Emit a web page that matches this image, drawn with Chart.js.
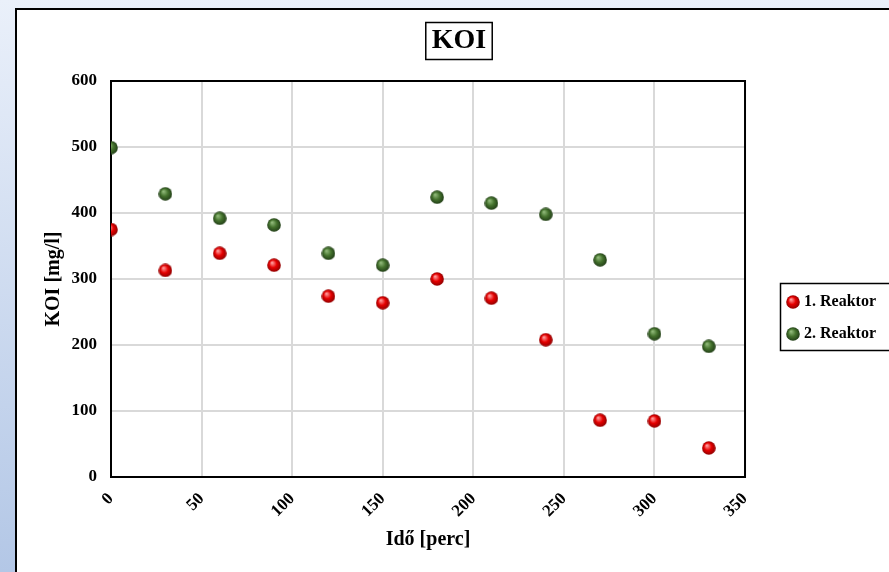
<!DOCTYPE html>
<html>
<head>
<meta charset="utf-8">
<script src="https://cdn.jsdelivr.net/npm/chart.js@4.4.1/dist/chart.umd.min.js"></script>
<style>
    html, body { margin: 0; padding: 0; width: 889px; height: 572px; overflow: hidden; }
    body { background: linear-gradient(#eaf0fa, #b3c7e6); }
    #frame { position: absolute; left: 15px; top: 8px; width: 900px; height: 600px;
             border-left: 2px solid #000; border-top: 2px solid #000; background: #fff; }
    canvas { display: block; }
</style>
</head>
<body>
<div id="frame"><canvas id="koi" width="885" height="562"></canvas></div>
<script>
const minutes = [0, 30, 60, 90, 120, 150, 180, 210, 240, 270, 300, 330];
const reaktor1 = [375, 313, 339, 321, 274, 264, 300, 271, 208, 86, 85, 44];
const reaktor2 = [499, 429, 392, 382, 339, 321, 424, 415, 398, 329, 217, 198];
const seriesNames = ['1. Reaktor', '2. Reaktor'];
const xTicks = [0, 50, 100, 150, 200, 250, 300, 350];
const yTicks = [0, 100, 200, 300, 400, 500, 600];

const serif = "'Liberation Serif', 'Times New Roman', serif";

// small shaded ball used as point marker
function sphere(light, base, dark) {
    const c = document.createElement('canvas');
    c.width = 14; c.height = 14;
    const g = c.getContext('2d');
    const grad = g.createRadialGradient(5, 4.5, 0.5, 7, 7, 7);
    grad.addColorStop(0, light);
    grad.addColorStop(0.5, base);
    grad.addColorStop(1, dark);
    g.fillStyle = grad;
    g.beginPath();
    g.arc(7, 7, 6.8, 0, Math.PI * 2);
    g.fill();
    return c;
}
const redBall = sphere('#ff9a9a', '#e60000', '#8c0000');
const greenBall = sphere('#8fb878', '#44722d', '#203c16');

const toPoints = vals => minutes.map((m, i) => ({ x: m, y: vals[i] }));

const frameBoxes = {
    id: 'frameBoxes',
    afterLayout(chart) {
        // title centred on the whole white frame
        const tb = chart.titleBlock;
        tb.left = 0; tb.right = 884; tb.width = 884;
        // place legend items where the reference has them
        const lg = chart.legend;
        lg.left = 757; lg.right = 900;
        lg.top = 268; lg.bottom = 380;
        lg.width = lg.right - lg.left; lg.height = lg.bottom - lg.top;
    },
    beforeDatasetsDraw(chart) {
        const { ctx, chartArea: a } = chart;
        ctx.save();
        ctx.strokeStyle = '#000';
        ctx.lineWidth = 2;
        ctx.strokeRect(a.left, a.top, a.right - a.left, a.bottom - a.top);
        ctx.restore();
    },
    afterDraw(chart) {
        const ctx = chart.ctx;
        ctx.save();
        ctx.strokeStyle = '#000';
        ctx.lineWidth = 1.5;
        // box around title
        ctx.font = 'bold 28px ' + serif;
        const w = ctx.measureText('KOI').width;
        const cx = 442;
        ctx.strokeRect(cx - w / 2 - 6, 12.5, w + 12, 37);
        // box around legend
        ctx.strokeRect(763.5, 273.5, 140, 67);
        ctx.restore();
    }
};

new Chart(document.getElementById('koi').getContext('2d'), {
    type: 'scatter',
    data: {
        datasets: [
            {
                label: seriesNames[0],
                data: toPoints(reaktor1),
                pointStyle: redBall,
                backgroundColor: '#e60000',
                borderColor: '#e60000'
            },
            {
                label: seriesNames[1],
                data: toPoints(reaktor2),
                pointStyle: greenBall,
                backgroundColor: '#44722d',
                borderColor: '#44722d'
            }
        ]
    },
    options: {
        responsive: false,
        animation: false,
        layout: { padding: { left: 0, right: 45, top: 0, bottom: 0 } },
        plugins: {
            title: {
                display: true,
                text: 'KOI',
                color: '#000',
                font: { family: serif, size: 28, weight: 'bold', lineHeight: 1.2 },
                padding: { top: 14, bottom: 23.4 }
            },
            legend: {
                position: 'right',
                align: 'start',
                labels: {
                    usePointStyle: true,
                    pointStyleWidth: 6,
                    padding: 16,
                    color: '#000',
                    font: { family: serif, size: 16, weight: 'bold', lineHeight: 1 }
                }
            },
            tooltip: { enabled: false }
        },
        scales: {
            x: {
                type: 'linear',
                min: 0,
                max: 350,
                afterBuildTicks: s => { s.ticks = xTicks.map(v => ({ value: v })); },
                afterFit: s => { s.height = 95; },
                grid: { color: '#d9d9d9', lineWidth: 2, drawTicks: false },
                border: { display: false },
                ticks: {
                    color: '#000',
                    minRotation: 45,
                    maxRotation: 45,
                    padding: 12,
                    font: { family: serif, size: 17, weight: 'bold' }
                },
                title: {
                    display: true,
                    text: 'Idő [perc]',
                    color: '#000',
                    font: { family: serif, size: 20, weight: 'bold' },
                    padding: { top: 0, bottom: 20 }
                }
            },
            y: {
                min: 0,
                max: 600,
                afterBuildTicks: s => { s.ticks = yTicks.map(v => ({ value: v })); },
                afterFit: s => { s.width = 94; },
                grid: { color: '#d9d9d9', lineWidth: 2, drawTicks: false },
                border: { display: false },
                ticks: {
                    color: '#000',
                    padding: 14,
                    font: { family: serif, size: 17, weight: 'bold' }
                },
                title: {
                    display: true,
                    text: 'KOI [mg/l]',
                    color: '#000',
                    font: { family: serif, size: 20, weight: 'bold' },
                    padding: { top: 25, bottom: 0 }
                }
            }
        }
    },
    plugins: [frameBoxes]
});
</script>
</body>
</html>
